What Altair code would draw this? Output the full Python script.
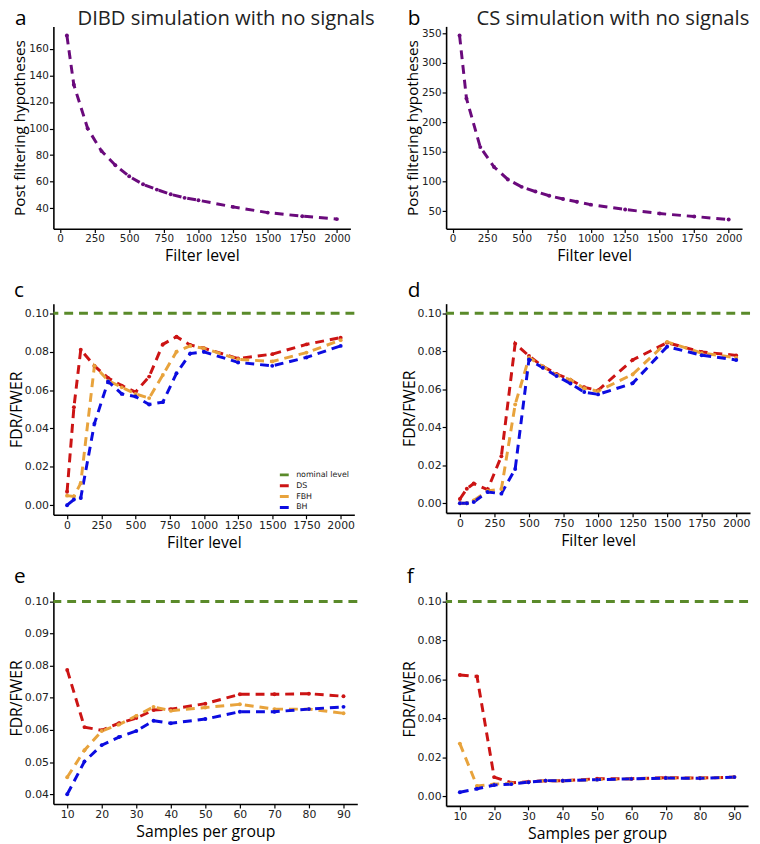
import altair as alt
import pandas as pd

# ---------------- data ----------------
filter_ab = [50, 100, 200, 300, 400, 500, 600, 700, 800, 900, 1000, 1250, 1500, 1750, 2000]
hyp_dibd = [170, 133, 100, 83, 72.4, 64, 58, 54, 50.5, 47.8, 46, 41, 36.7, 34, 31.8]
hyp_cs = [346, 240, 158, 124.5, 103.5, 91, 83, 76, 70.5, 66, 61, 52.8, 46, 41, 36]

filter_cd = [0, 50, 100, 200, 300, 400, 500, 600, 700, 800, 900, 1000, 1250, 1500, 1750, 2000]
c_ds = [0.007, 0.051, 0.081, 0.0726, 0.0663, 0.0623, 0.0589, 0.067, 0.0838, 0.0878, 0.0835, 0.0818, 0.0764, 0.0787, 0.0838, 0.0873]
c_fbh = [0.005, 0.0046, 0.0115, 0.0726, 0.0649, 0.0614, 0.058, 0.0558, 0.0678, 0.080, 0.083, 0.0818, 0.076, 0.0749, 0.0795, 0.086]
c_bh = [0.0, 0.003, 0.0038, 0.0425, 0.0645, 0.058, 0.0566, 0.0525, 0.0537, 0.0687, 0.079, 0.0799, 0.0744, 0.0726, 0.077, 0.083]

d_ds = [0.0023, 0.0077, 0.0104, 0.0072, 0.0248, 0.084, 0.0775, 0.072, 0.068, 0.065, 0.061, 0.0594, 0.0754, 0.0845, 0.0796, 0.0778]
d_fbh = [0.0, 0.0, 0.0015, 0.0065, 0.0075, 0.052, 0.0766, 0.072, 0.0675, 0.065, 0.0605, 0.059, 0.0678, 0.0849, 0.079, 0.0766]
d_bh = [0.0, 0.0, 0.0007, 0.006, 0.0051, 0.0181, 0.0757, 0.0713, 0.067, 0.063, 0.0585, 0.0573, 0.0631, 0.0824, 0.0779, 0.0754]

samples = [10, 15, 20, 25, 30, 35, 40, 50, 60, 70, 80, 90]
e_ds = [0.0787, 0.0609, 0.0599, 0.0621, 0.0637, 0.0662, 0.0665, 0.0682, 0.0711, 0.0711, 0.0713, 0.0705]
e_fbh = [0.0453, 0.0537, 0.0597, 0.0617, 0.0644, 0.0672, 0.066, 0.067, 0.068, 0.0665, 0.0665, 0.0652]
e_bh = [0.04, 0.0502, 0.0553, 0.0578, 0.0597, 0.0629, 0.0621, 0.0634, 0.0657, 0.0657, 0.0665, 0.0672]

f_ds = [0.0623, 0.0615, 0.0098, 0.0069, 0.0074, 0.0079, 0.0079, 0.009, 0.009, 0.0095, 0.0093, 0.0098]
f_fbh = [0.027, 0.0052, 0.0062, 0.0066, 0.0072, 0.008, 0.0079, 0.0085, 0.0089, 0.0093, 0.0092, 0.0098]
f_bh = [0.002, 0.0038, 0.0057, 0.0062, 0.0072, 0.008, 0.0079, 0.0085, 0.0089, 0.0093, 0.0092, 0.0098]

nominal_level = 0.1

series_names = ["nominal level", "DS", "FBH", "BH"]
series_colors = ["#5a8a2a", "#cc1414", "#e8a33c", "#0c0ce0"]
purple = "#6a0a7c"

filter_ticks = [0, 250, 500, 750, 1000, 1250, 1500, 1750, 2000]
sample_ticks = [10, 20, 30, 40, 50, 60, 70, 80, 90]

DASH = [9, 6]
TITLE_FONT = "Open Sans"
LABEL_FONT = "DejaVu Sans"


def annotations(letter, lx, ly, title=None, tx=0, ty=0):
    layers = [
        alt.Chart(pd.DataFrame({"t": [letter]})).mark_text(
            align="left", baseline="alphabetic", fontSize=21, font=TITLE_FONT, color="black"
        ).encode(text="t:N", x=alt.value(lx), y=alt.value(ly))
    ]
    if title:
        layers.append(
            alt.Chart(pd.DataFrame({"t": [title]})).mark_text(
                align="center", baseline="alphabetic", fontSize=20.5, font=TITLE_FONT, color="#222222"
            ).encode(text="t:N", x=alt.value(tx), y=alt.value(ty))
        )
    return layers


def x_axis(values, title, size=11):
    return alt.Axis(values=values, format="d", title=title, labelFontSize=size, titlePadding=4)


def hyp_panel(values, ydomain, yticks, w, h, letter, lx, ly, title, tx, ty):
    df = pd.DataFrame({"x": filter_ab, "y": values})
    x = alt.X("x:Q", scale=alt.Scale(domain=[-47.5, 2097.5], nice=False, zero=False),
              axis=x_axis(filter_ticks, "Filter level", 10.5))
    y = alt.Y("y:Q", scale=alt.Scale(domain=ydomain, nice=False, zero=False),
              axis=alt.Axis(values=yticks, format="d", title="Post filtering hypotheses",
                            labelFontSize=10.5, titleFontSize=15.5, titlePadding=1))
    base = alt.Chart(df)
    line = base.mark_line(color=purple, strokeWidth=3, strokeDash=DASH).encode(x=x, y=y)
    pts = base.mark_circle(color=purple, size=16, opacity=1).encode(x=x, y=y)
    return alt.layer(line, pts, *annotations(letter, lx, ly, title, tx, ty)).properties(width=w, height=h)


def fdr_panel(xvals, ds, fbh, bh, xtitle, xdomain, xticks, ydomain, yticks, w, h,
              letter, lx, ly, legend=False):
    rows = []
    for name, vals in [("DS", ds), ("FBH", fbh), ("BH", bh)]:
        for xv, yv in zip(xvals, vals):
            rows.append({"x": xv, "y": yv, "method": name})
    df = pd.DataFrame(rows)
    nom = pd.DataFrame({"y": [nominal_level], "method": ["nominal level"]})
    if legend:
        leg = alt.Legend(title=None, orient="none", legendX=228, legendY=168,
                         symbolType="stroke", symbolStrokeWidth=3, symbolSize=81,
                         symbolDash=[1, 0], labelFontSize=8, labelFont=LABEL_FONT,
                         labelColor="#222222", rowPadding=0, clipHeight=11, labelOffset=6)
    else:
        leg = None
    color = alt.Color("method:N", scale=alt.Scale(domain=series_names, range=series_colors),
                      legend=leg)
    x = alt.X("x:Q", scale=alt.Scale(domain=xdomain, nice=False, zero=False),
              axis=x_axis(xticks, xtitle))
    y = alt.Y("y:Q", scale=alt.Scale(domain=ydomain, nice=False, zero=False),
              axis=alt.Axis(values=yticks, format=".2f", title="FDR/FWER", labelOverlap=False,
                            titlePadding=0))
    rule = alt.Chart(nom).mark_rule(strokeWidth=3, strokeDash=DASH).encode(y=y, color=color)
    base = alt.Chart(df)
    lines = base.mark_line(strokeWidth=3, strokeDash=DASH).encode(x=x, y=y, color=color)
    pts = base.mark_circle(size=16, opacity=1).encode(x=x, y=y, color=color)
    return alt.layer(rule, lines, pts, *annotations(letter, lx, ly)).properties(width=w, height=h)


fdr_ticks_0 = [0.0, 0.02, 0.04, 0.06, 0.08, 0.10]
fdr_ticks_e = [0.04, 0.05, 0.06, 0.07, 0.08, 0.09, 0.10]

pa = hyp_panel(hyp_dibd, [24.6, 176.9], [40, 60, 80, 100, 120, 140, 160], 301, 205,
               "a", -39, -1, "DIBD simulation with no signals", 175, -1)
pb = hyp_panel(hyp_cs, [20.5, 361.5], [50, 100, 150, 200, 250, 300, 350], 300, 205,
               "b", -39, -1, "CS simulation with no signals", 169, -1)
pc = fdr_panel(filter_cd, c_ds, c_fbh, c_bh, "Filter level", [-100, 2100], filter_ticks,
               [-0.005, 0.105], fdr_ticks_0, 305, 214, "c", -40, -7, legend=True)
pd_ = fdr_panel(filter_cd, d_ds, d_fbh, d_bh, "Filter level", [-100, 2100], filter_ticks,
                [-0.005, 0.105], fdr_ticks_0, 308, 212, "d", -39, -7)
pe = fdr_panel(samples, e_ds, e_fbh, e_bh, "Samples per group", [6, 94], sample_ticks,
               [0.037, 0.103], fdr_ticks_e, 308, 215, "e", -40, -9)
pf = fdr_panel(samples, f_ds, f_fbh, f_bh, "Samples per group", [6, 94], sample_ticks,
               [-0.005, 0.105], fdr_ticks_0, 306, 217, "f", -40, -9)

chart = alt.concat(pa, pb, pc, pd_, pe, pf, columns=2,
                   spacing=alt.RowColnumber(row=16, column=26)).resolve_scale(
    color="independent"
).properties(
    padding={"left": 0, "top": -5, "right": 0, "bottom": 0}
).configure_view(stroke=None).configure_axis(
    grid=False, domainColor="black", domainWidth=1.6, tickColor="black", tickWidth=1.2,
    tickSize=4, labelPadding=1, labelColor="#222222", labelFont=LABEL_FONT, labelFontSize=11,
    titleFont=TITLE_FONT, titleFontSize=16, titleFontWeight="normal", titleColor="black"
)

chart.save("out.html", embed_options={"renderer": "svg", "actions": False})
